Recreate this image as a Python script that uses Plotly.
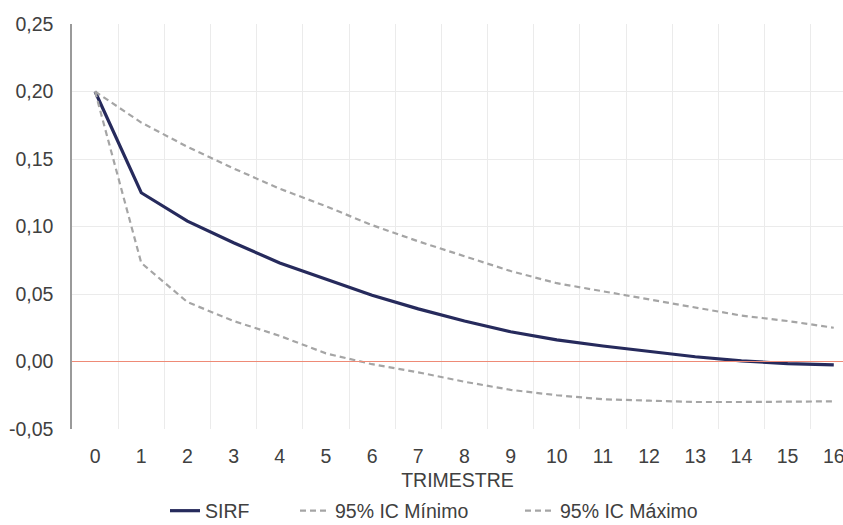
import plotly.graph_objects as go

trimestre = list(range(17))
sirf = [0.200, 0.125, 0.104, 0.088, 0.073, 0.061, 0.049, 0.039, 0.030, 0.022, 0.016,
        0.0115, 0.0075, 0.0035, 0.0005, -0.0015, -0.0025]
ic_min = [0.200, 0.073, 0.044, 0.030, 0.019, 0.006, -0.002, -0.008, -0.015, -0.021, -0.025,
          -0.028, -0.029, -0.030, -0.030, -0.030, -0.0295]
ic_max = [0.200, 0.177, 0.159, 0.143, 0.128, 0.115, 0.101, 0.089, 0.078, 0.067, 0.058,
          0.052, 0.046, 0.040, 0.034, 0.030, 0.025]

y_ticks = [-0.05, 0.0, 0.05, 0.10, 0.15, 0.20, 0.25]
y_ticktext = [("%.2f" % v).replace(".", ",") for v in y_ticks]

font_color = "#404040"
fsize = 19.5
fig = go.Figure()
fig.add_trace(go.Scatter(x=trimestre, y=sirf, name="SIRF", mode="lines",
                         line=dict(color="#262a5c", width=3.2), legend="legend"))
fig.add_trace(go.Scatter(x=trimestre, y=ic_min, name="95% IC Mínimo", mode="lines",
                         line=dict(color="#a5a5a5", width=2.2, dash="6px,4px"), legend="legend2"))
fig.add_trace(go.Scatter(x=trimestre, y=ic_max, name="95% IC Máximo", mode="lines",
                         line=dict(color="#a5a5a5", width=2.2, dash="6px,4px"), legend="legend3"))

# zero reference line
fig.add_shape(type="line", xref="paper", x0=0, x1=1, yref="y", y0=0, y1=0,
              line=dict(color="#ee8a76", width=1.2), layer="above")

leg_common = dict(orientation="h", xanchor="left", yref="container", y=14 / 525,
                  yanchor="middle",
                  font=dict(size=fsize, color=font_color), bgcolor="rgba(0,0,0,0)",
                  borderwidth=0, itemwidth=30)

fig.update_layout(
    width=843, height=525,
    margin=dict(l=72, r=0, t=24, b=96, autoexpand=False),
    paper_bgcolor="white", plot_bgcolor="white",
    font=dict(family="Liberation Sans, Arial, sans-serif", size=fsize, color=font_color),
    showlegend=True,
    legend=dict(x=(165 - 72) / 771, **leg_common),
    legend2=dict(x=(295 - 72) / 771, **leg_common),
    legend3=dict(x=(520 - 72) / 771, **leg_common),
)
fig.update_xaxes(
    range=[-0.5, 16.2], tickmode="array", tickvals=trimestre,
    ticktext=[str(t) for t in trimestre], ticklabeloverflow="allow",
    showgrid=False, zeroline=False, showline=False,
    ticks="outside", ticklen=10, tickcolor="rgba(0,0,0,0)",
    minor=dict(tickmode="array", tickvals=[t + 0.5 for t in trimestre],
               showgrid=True, gridcolor="#ebebeb", gridwidth=1, ticks=""),
    title=dict(text="TRIMESTRE", standoff=14, font=dict(size=fsize, color=font_color)),
)
fig.update_yaxes(
    range=[-0.05, 0.25], tickmode="array", tickvals=y_ticks, ticktext=y_ticktext,
    showgrid=True, gridcolor="#ebebeb", gridwidth=1,
    zeroline=False,
    showline=True, linecolor="#9a9a9a", linewidth=1.5,
    ticks="outside", ticklen=13, tickcolor="rgba(0,0,0,0)",
)

fig.write_html("out.html")
